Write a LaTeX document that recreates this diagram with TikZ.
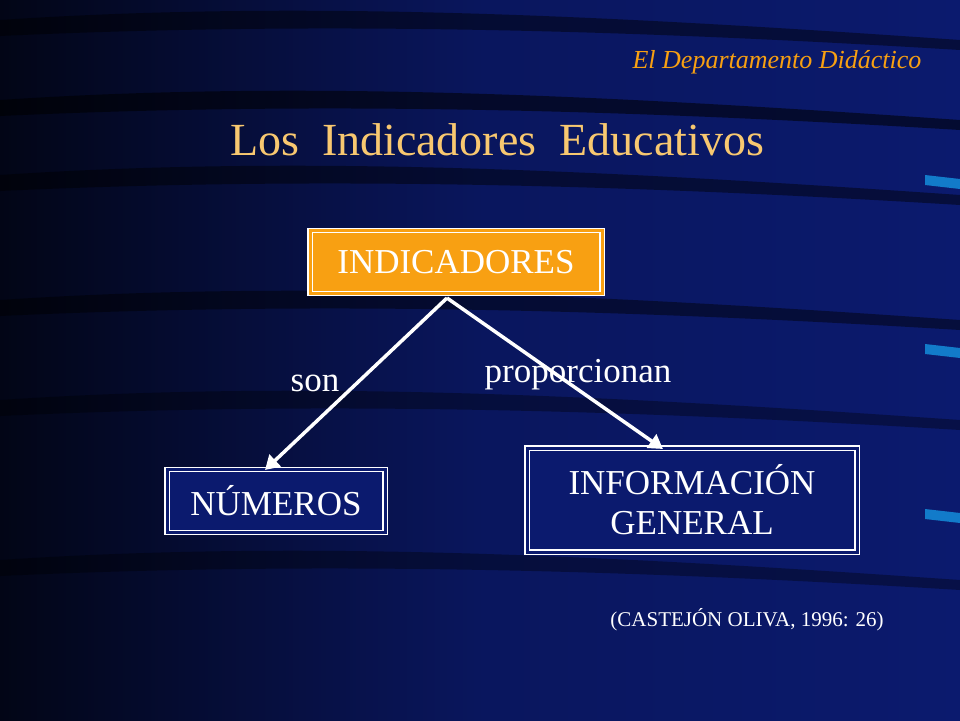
\documentclass[tikz,border=0pt]{standalone}
\usepackage{fontspec}
\setmainfont{Liberation Serif}
\usetikzlibrary{arrows.meta}
\begin{document}
\begin{tikzpicture}[x=1pt,y=-1pt,
  box/.style={draw=white,line width=1.3pt,double distance=3pt,text=white,font=\fontsize{35}{40}\selectfont,inner sep=0pt,align=center},
  arr/.style={white,line width=3.5pt,-{Triangle[length=14pt,width=16pt]}},
  lab/.style={text=white,font=\fontsize{35}{40}\selectfont}]
\definecolor{bg}{HTML}{0B1A6E}
\definecolor{org}{HTML}{F8A012}
\definecolor{ttl}{HTML}{F8C870}
\shade[left color=black!80!bg,right color=bg,middle color=bg!85!black] (0,0) rectangle (960,720);
\foreach \y/\o in {20/0.45,100/0.55,175/0.45,300/0.45,400/0.35,560/0.35} {
  \fill[black,opacity=\o] (0,\y) .. controls (300,\y-20) and (600,\y-5) .. (960,\y+20) -- (960,\y+30) .. controls (600,\y+8) and (300,\y+2) .. (0,\y+16) -- cycle;
}
\foreach \y in {181,350,515} \fill[cyan!60!blue] (925,\y-6) -- (960,\y-2) -- (960,\y+8) -- (925,\y+4) -- cycle;
\node[text=org,font=\itshape\fontsize{26}{30}\selectfont] (dep) at (777,62) {El Departamento Didáctico};
\node[text=ttl,font=\fontsize{46}{52}\selectfont] (title) at (497,140) {Los\ \ Indicadores\ \ Educativos};
\node[box,double=org,fill=org,minimum width=292,minimum height=63] (ind) at (456,262) {INDICADORES};
\node[box,double=bg,fill=bg,minimum width=218,minimum height=63] (num) at (276,501) {NÚMEROS};
\node[box,double=bg,fill=bg,minimum width=330,minimum height=104] (inf) at (692,500) {INFORMACIÓN\\GENERAL};
\coordinate (top) at (447,298);
\coordinate (e1) at (265,470);
\coordinate (e2) at (663,449);
\draw[arr] (top) -- (e1);
\draw[arr] (top) -- (e2);
\node[lab] (son) at (315,383) {son};
\node[lab] (prop) at (578,375) {proporcionan};
\node[text=white,font=\fontsize{21}{25}\selectfont] (cit) at (747,620) {(CASTEJÓN OLIVA, 1996: 26)};
\end{tikzpicture}
\end{document}
